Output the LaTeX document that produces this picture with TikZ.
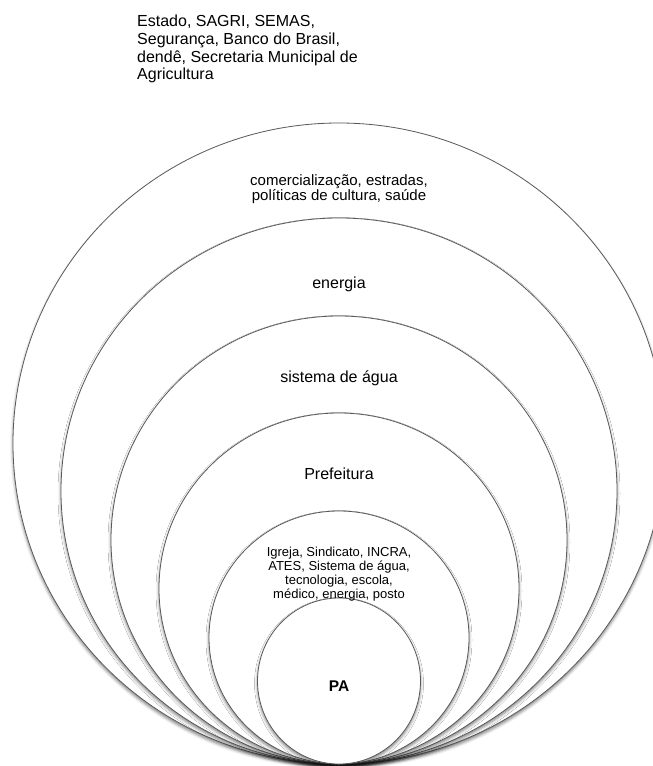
\documentclass[tikz,border=0pt]{standalone}
\usepackage{fontspec}
\setmainfont{Liberation Sans}
\usepackage{tikz}
\usetikzlibrary{positioning, shapes.geometric, shadows.blur}
\tikzset{
    ringnode/.style={ellipse, draw=black!65, fill=white, line width=0.8pt, inner sep=0pt, outer sep=0pt, anchor=south,
        blur shadow={shadow xshift=0pt, shadow yshift=-2.5pt, shadow blur radius=3pt, shadow opacity=50}},
    ringlabel/.style={align=center, inner sep=0pt, font=\fontsize{16pt}{17.7pt}\selectfont},
    smalllabel/.style={align=center, inner sep=0pt, font=\fontsize{13pt}{13.8pt}\selectfont},
}

\begin{document}
\begin{tikzpicture}[x=1pt, y=1pt]
\useasboundingbox (0,0) rectangle (653,-766);
\coordinate (base) at (339,-764);

% nested rings, all touching at the bottom
\node[ringnode, minimum width=652pt, minimum height=641pt] (outer) at (base) {};
\node[ringnode, minimum width=556pt, minimum height=546pt] (energy) at (base) {};
\node[ringnode, minimum width=456pt, minimum height=448pt] (water) at (base) {};
\node[ringnode, minimum width=360pt, minimum height=351pt] (city) at (base) {};
\node[ringnode, minimum width=260pt, minimum height=253pt] (local) at (base) {};
\node[ringnode, minimum width=163pt, minimum height=166pt] (pa) at (base) {};

% labels
\node[ringlabel, anchor=north west, align=left] (state) at (137,-15)
    {Estado, SAGRI, SEMAS,\\Segurança, Banco do Brasil,\\dendê, Secretaria Municipal de\\Agricultura};
\node[ringlabel, font=\fontsize{15pt}{15.5pt}\selectfont] (trade) at ([yshift=-66pt]outer.north)
    {comercialização, estradas,\\políticas de cultura, saúde};
\node[ringlabel] (energylbl) at ([yshift=-66pt]energy.north) {energia};
\node[ringlabel] (waterlbl) at ([yshift=-62pt]water.north) {sistema de água};
\node[ringlabel] (citylbl) at ([yshift=-61pt]city.north) {Prefeitura};
\node[smalllabel] (locallbl) at ([yshift=-63pt]local.north)
    {Igreja, Sindicato, INCRA,\\ATES, Sistema de água,\\tecnologia, escola,\\médico, energia, posto};
\node[ringlabel, font=\bfseries\fontsize{15.5pt}{17pt}\selectfont] (palbl) at ([yshift=-5pt]pa.center) {PA};
\end{tikzpicture}
\end{document}
